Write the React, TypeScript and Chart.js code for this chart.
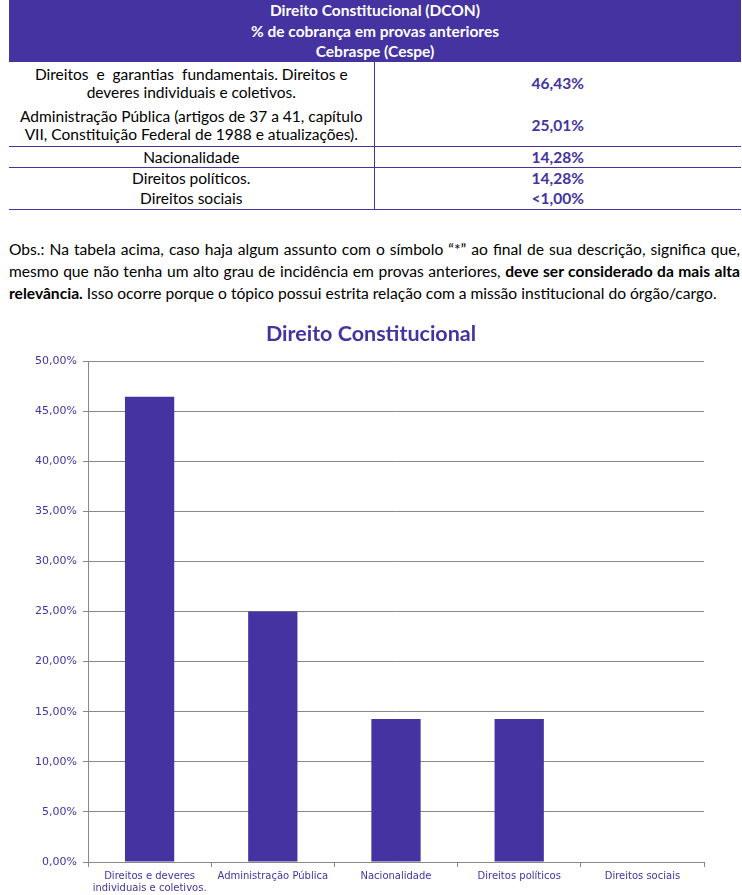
import React, { useEffect, useRef } from "react";
import { Chart, registerables } from "chart.js";

Chart.register(...registerables);

const categories: (string | string[])[] = [
  ["Direitos e deveres", "individuais e coletivos."],
  "Administração Pública",
  "Nacionalidade",
  "Direitos políticos",
  "Direitos sociais",
];
const values: number[] = [46.43, 25.01, 14.28, 14.28, 0];
const yTicks: number[] = [0, 5, 10, 15, 20, 25, 30, 35, 40, 45, 50];

const tableHeader: string[] = [
  "Direito Constitucional (DCON)",
  "% de cobrança em provas anteriores",
  "Cebraspe (Cespe)",
];

const PURPLE = "#4433a1";
const FONT = "Lato, 'Open Sans', sans-serif";
const CHART_FONT = "'DejaVu Sans', sans-serif";

const fmt = (v: number) => v.toFixed(2).replace(".", ",") + "%";

function BarChart() {
  const ref = useRef<HTMLCanvasElement | null>(null);
  useEffect(() => {
    if (!ref.current) return;
    const chart = new Chart(ref.current, {
      type: "bar",
      data: {
        labels: categories,
        datasets: [
          {
            data: values,
            backgroundColor: PURPLE,
            borderWidth: 0,
            categoryPercentage: 1,
            barPercentage: 0.4,
          },
        ],
      },
      options: {
        animation: false,
        responsive: false,
        maintainAspectRatio: false,
        layout: { padding: 0 },
        plugins: {
          legend: { display: false },
          tooltip: { enabled: false },
          title: {
            display: true,
            text: "Direito Constitucional",
            color: PURPLE,
            font: { family: FONT, size: 21.5, weight: "bold", lineHeight: 1.2 },
            padding: { top: 6, bottom: 14.2 },
          },
        },
        scales: {
          x: {
            afterFit: (s: any) => {
              s.height = 33;
            },
            grid: {
              display: true,
              drawOnChartArea: false,
              drawTicks: true,
              tickLength: 5,
              color: "#888888",
              offset: true,
            },
            border: { display: true, color: "#888888" },
            ticks: {
              color: PURPLE,
              font: { family: CHART_FONT, size: 10, lineHeight: 1.2 },
              padding: 3,
              maxRotation: 0,
              autoSkip: false,
            },
          },
          y: {
            min: 0,
            max: 50,
            afterFit: (s: any) => {
              s.width = 88;
            },
            afterBuildTicks: (s: any) => {
              s.ticks = yTicks.map((v) => ({ value: v }));
            },
            grid: {
              color: "#888888",
              drawTicks: true,
              tickLength: 5,
            },
            border: { display: true, color: "#888888" },
            ticks: {
              color: PURPLE,
              font: { family: CHART_FONT, size: 11 },
              padding: 6,
              callback: (v: any) => fmt(Number(v)),
            },
          },
          yRight: {
            position: "right",
            min: 0,
            max: 50,
            afterFit: (s: any) => {
              s.width = 38;
            },
            grid: { display: false, drawTicks: false },
            border: { display: false },
            ticks: { display: false },
          },
        },
      },
    });
    return () => chart.destroy();
  }, []);
  return <canvas ref={ref} width={742} height={580} style={{ display: "block" }} />;
}

export default function App() {
  useEffect(() => {
    document.body.style.margin = "0";
  }, []);

  const cellL: React.CSSProperties = {
    textAlign: "center",
    verticalAlign: "middle",
    padding: 0,
    color: "#000",
    lineHeight: "18px",
  };
  const cellR: React.CSSProperties = {
    textAlign: "center",
    verticalAlign: "middle",
    padding: 0,
    color: PURPLE,
    fontWeight: "bold",
    borderLeft: `1px solid ${PURPLE}`,
  };
  const line = `1px solid ${PURPLE}`;

  return (
    <div
      style={{
        position: "relative",
        width: 742,
        height: 895,
        fontFamily: FONT,
        overflow: "hidden",
        background: "#fff",
      }}
    >
      <div
        style={{
          position: "absolute",
          left: 9,
          top: 0,
          width: 732,
          height: 62,
          background: PURPLE,
          color: "#fff",
          fontWeight: "bold",
          fontSize: 15.5,
          textAlign: "center",
          lineHeight: "20.5px",
          paddingTop: 0,
          boxSizing: "border-box",
        }}
      >
        {tableHeader.map((t) => (
          <div key={t}>{t}</div>
        ))}
      </div>
      <table
        style={{
          position: "absolute",
          left: 9,
          top: 62,
          width: 732,
          borderCollapse: "collapse",
          fontSize: 15.5,
          tableLayout: "fixed",
        }}
      >
        <colgroup>
          <col style={{ width: 365 }} />
          <col style={{ width: 367 }} />
        </colgroup>
        <tbody>
          <tr style={{ height: 42 }}>
            <td style={cellL}>
              Direitos&nbsp; e&nbsp; garantias&nbsp; fundamentais. Direitos e
              <br />
              deveres individuais e coletivos.
            </td>
            <td style={cellR}>46,43%</td>
          </tr>
          <tr style={{ height: 42, borderBottom: line }}>
            <td style={cellL}>
              Administração Pública (artigos de 37 a 41, capítulo
              <br />
              VII, Constituição Federal de 1988 e atualizações).
            </td>
            <td style={cellR}>25,01%</td>
          </tr>
          <tr style={{ height: 21, borderBottom: line }}>
            <td style={cellL}>Nacionalidade</td>
            <td style={cellR}>14,28%</td>
          </tr>
          <tr style={{ height: 21 }}>
            <td style={cellL}>Direitos políticos.</td>
            <td style={cellR}>14,28%</td>
          </tr>
          <tr style={{ height: 21, borderBottom: line }}>
            <td style={cellL}>Direitos sociais</td>
            <td style={cellR}>&lt;1,00%</td>
          </tr>
        </tbody>
      </table>
      <div
        style={{
          position: "absolute",
          left: 9,
          top: 238,
          width: 731,
          fontSize: 15.6,
          lineHeight: "22px",
          color: "#000",
        }}
      >
        <div style={{ textAlign: "justify", textAlignLast: "justify", whiteSpace: "nowrap" }}>
          Obs.: Na tabela acima, caso haja algum assunto com o símbolo “*” ao final de sua descrição, significa que,
        </div>
        <div style={{ textAlign: "justify", textAlignLast: "justify", whiteSpace: "nowrap" }}>
          mesmo que não tenha um alto grau de incidência em provas anteriores, <b>deve ser considerado da mais alta</b>
        </div>
        <div style={{ whiteSpace: "nowrap" }}>
          <b>relevância.</b> Isso ocorre porque o tópico possui estrita relação com a missão institucional do órgão/cargo.
        </div>
      </div>
      <div style={{ position: "absolute", left: 0, top: 315 }}>
        <BarChart />
      </div>
    </div>
  );
}
